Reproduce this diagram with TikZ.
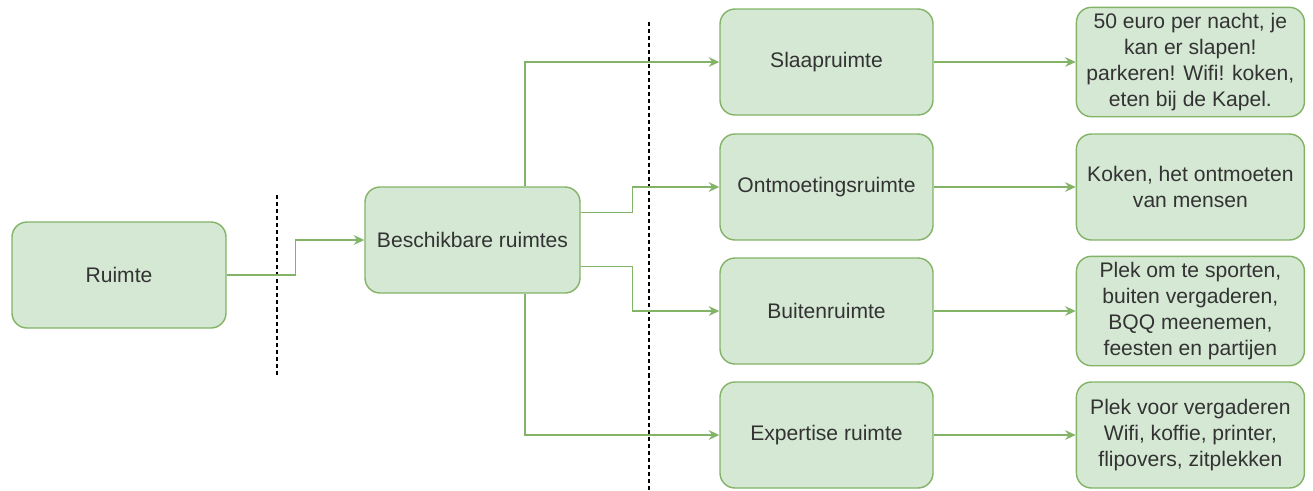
\documentclass[tikz,border=0pt]{standalone}
\usepackage{fontspec}
\setmainfont{Liberation Sans}
\usepackage{tikz}
\usetikzlibrary{arrows.meta,positioning}
\usepackage{xcolor}
\definecolor{boxfill}{HTML}{D5E8D4}
\definecolor{boxline}{HTML}{82B366}
\definecolor{textgrey}{HTML}{333333}

\begin{document}
\begin{tikzpicture}[>={Stealth[length=6pt,width=5.5pt]}]
            \tikzstyle{room}=[rectangle, rounded corners=0.3cm, draw=boxline, fill=boxfill, line width=0.8pt, minimum width=4.26cm, minimum height=2.12cm, align=center, text=textgrey, font=\fontsize{12}{14.8}\selectfont]
            \tikzstyle{detail}=[room, minimum width=4.56cm]
            \tikzstyle{link}=[->, boxline, line width=0.9pt]
            \tikzstyle{divider}=[black, line width=0.8pt, dash pattern=on 2.3pt off 1.7pt]

            \useasboundingbox (0,0) rectangle (26.26,-9.8);

            % Left part
            \node[room, minimum width=4.28cm] (ruimte) at (2.38,-5.5) {Ruimte};
            \node[room, minimum width=4.3cm] (beschikbaar) at (9.45,-4.8) {Beschikbare ruimtes};

            % Middle column
            \node[room] (slaap) at (16.53,-1.24) {Slaapruimte};
            \node[room] (ontmoet) at (16.53,-3.74) {Ontmoetingsruimte};
            \node[room] (buiten) at (16.53,-6.22) {Buitenruimte};
            \node[room] (expertise) at (16.53,-8.7) {Expertise ruimte};

            % Right column
            \node[detail, right=2.84cm of slaap] (slaapinfo) {50 euro per nacht, je\\kan er slapen!\\parkeren! Wifi! koken,\\eten bij de Kapel.};
            \node[detail, right=2.84cm of ontmoet] (ontmoetinfo) {Koken, het ontmoeten\\van mensen};
            \node[detail, right=2.84cm of buiten] (buiteninfo) {Plek om te sporten,\\buiten vergaderen,\\BQQ meenemen,\\feesten en partijen};
            \node[detail, right=2.84cm of expertise] (expertiseinfo) {Plek voor vergaderen\\Wifi, koffie, printer,\\flipovers, zitplekken};

            % Dashed dividers
            \coordinate (D1top) at (5.54,-3.9);
            \coordinate (D1bot) at (5.54,-7.5);
            \coordinate (D2top) at (12.98,-0.44);
            \coordinate (D2bot) at (12.98,-9.8);
            \draw[divider] (D1top) -- (D1bot);
            \draw[divider] (D2top) -- (D2bot);

            % Connectors
            \draw[link] (ruimte.east) -- ++(1.38,0) |- (beschikbaar.west);
            \draw[link] ([xshift=1.05cm]beschikbaar.north) |- (slaap.west);
            \draw[link] ([yshift=0.55cm]beschikbaar.east) -- ++(1.04,0) |- (ontmoet.west);
            \draw[link] ([yshift=-0.53cm]beschikbaar.east) -- ++(1.04,0) |- (buiten.west);
            \draw[link] ([xshift=1.05cm]beschikbaar.south) |- (expertise.west);

            \draw[link] (slaap) -- (slaapinfo);
            \draw[link] (ontmoet) -- (ontmoetinfo);
            \draw[link] (buiten) -- (buiteninfo);
            \draw[link] (expertise) -- (expertiseinfo);
        \end{tikzpicture}
\end{document}
